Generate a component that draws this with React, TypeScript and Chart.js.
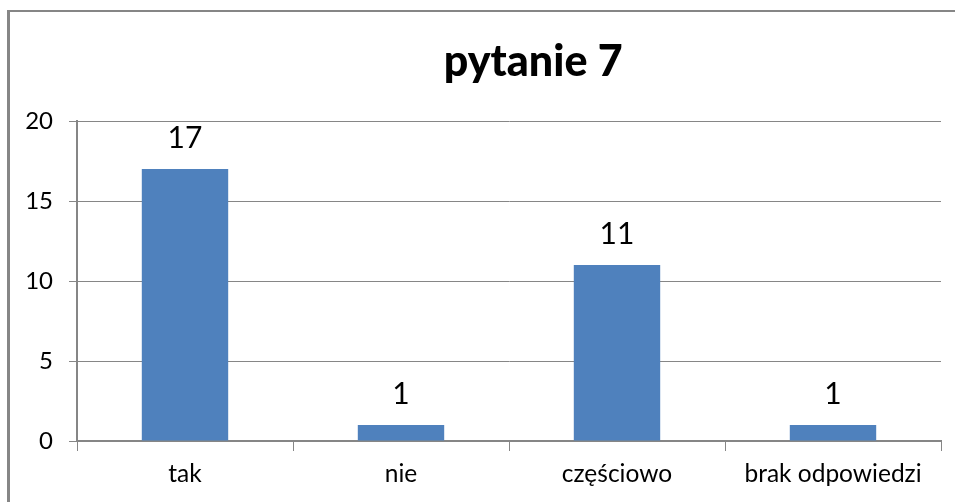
import React, { useEffect, useRef } from "react";
import { Chart, registerables } from "chart.js";

Chart.register(...registerables);

const categories = ["tak", "nie", "częściowo", "brak odpowiedzi"];
const values = [17, 1, 11, 1];
const titleText = "pytanie 7";
const yTicks = [0, 5, 10, 15, 20];

const FONT = "Lato, 'Open Sans', sans-serif";

const decorPlugin = {
  id: "decor",
  beforeDraw(chart: any) {
    const ctx = chart.ctx;
    ctx.save();
    ctx.fillStyle = "#ffffff";
    ctx.fillRect(0, 0, chart.width, chart.height);
    ctx.strokeStyle = "#868686";
    ctx.lineWidth = 3;
    ctx.beginPath();
    ctx.moveTo(8.5, chart.height);
    ctx.lineTo(8.5, 10.5);
    ctx.stroke();
    ctx.lineWidth = 2;
    ctx.beginPath();
    ctx.moveTo(7, 11);
    ctx.lineTo(chart.width, 11);
    ctx.stroke();
    ctx.restore();
  },
  afterDatasetsDraw(chart: any) {
    const ctx = chart.ctx;
    const area = chart.chartArea;
    ctx.save();
    ctx.fillStyle = "#000000";
    ctx.font = `900 43px ${FONT}`;
    ctx.textAlign = "center";
    ctx.textBaseline = "alphabetic";
    ctx.fillText(titleText, area.left + area.width * 0.528, 76);
    const meta = chart.getDatasetMeta(0);
    ctx.font = `30px ${FONT}`;
    meta.data.forEach((bar: any, i: number) => {
      ctx.fillText(String(values[i]), bar.x, bar.y - 21);
    });
    ctx.restore();
  },
};

export default function App() {
  const ref = useRef<HTMLCanvasElement>(null);
  useEffect(() => {
    document.body.style.margin = "0";
    const chart = new Chart(ref.current!, {
      type: "bar",
      data: {
        labels: categories,
        datasets: [
          {
            data: values,
            backgroundColor: "#4F81BD",
            barPercentage: 0.8,
            categoryPercentage: 0.5,
          },
        ],
      },
      options: {
        animation: false,
        responsive: false,
        devicePixelRatio: 1,
        layout: { padding: { left: 0, right: 14, top: 121, bottom: 0 } },
        plugins: {
          legend: { display: false },
          title: { display: false },
          tooltip: { enabled: false },
        },
        scales: {
          x: {
            offset: true,
            grid: {
              display: true,
              drawOnChartArea: false,
              drawTicks: true,
              tickLength: 10,
              color: "#868686",
              offset: true,
            },
            border: { display: true, color: "#868686", width: 2 },
            ticks: {
              color: "#000000",
              font: { family: FONT, size: 24.5 },
              padding: 8,
              maxRotation: 0,
            },
            afterFit(scale: any) {
              scale.height = 61;
            },
          },
          y: {
            min: 0,
            max: 20,
            afterBuildTicks(scale: any) {
              scale.ticks = yTicks.map((v) => ({ value: v }));
            },
            grid: {
              color: "#868686",
              lineWidth: 1,
              drawTicks: true,
              tickLength: 8,
            },
            border: { display: true, color: "#868686", width: 2 },
            ticks: {
              color: "#000000",
              font: { family: FONT, size: 24 },
              padding: 16,
            },
            afterFit(scale: any) {
              scale.width = 77;
            },
          },
        },
      },
      plugins: [decorPlugin],
    });
    return () => chart.destroy();
  }, []);
  return <canvas ref={ref} width={955} height={502} style={{ display: "block" }} />;
}
